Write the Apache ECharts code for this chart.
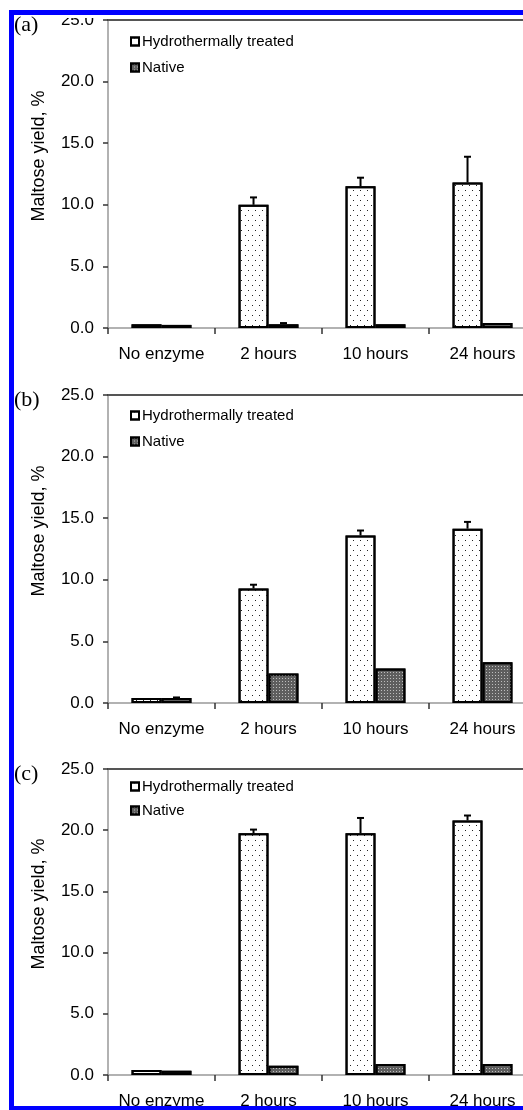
<!DOCTYPE html>
<html>
<head>
<meta charset="utf-8">
<script src="https://cdn.jsdelivr.net/npm/echarts@6/dist/echarts.min.js"></script>
<style>
  html, body { margin: 0; padding: 0; background: #fff; overflow: hidden; }
  #main { width: 540px; height: 1110px; }
</style>
</head>
<body>
<div id="main"></div>
<script>
// categories on the x axis
const categories = ['No enzyme', '2 hours', '10 hours', '24 hours'];
const seriesNames = ['Hydrothermally treated', 'Native'];
const panelLabels = ['(a)', '(b)', '(c)'];

// panel (a)
const hydroA = [0.3, 10.0, 11.5, 11.8];
const hydroErrA = [0, 0.6, 0.7, 2.1];
const nativeA = [0.25, 0.3, 0.3, 0.4];
const nativeErrA = [0, 0.1, 0, 0];

// panel (b)
const hydroB = [0.4, 9.3, 13.6, 14.15];
const hydroErrB = [0, 0.3, 0.4, 0.55];
const nativeB = [0.4, 2.4, 2.8, 3.3];
const nativeErrB = [0.05, 0, 0, 0];

// panel (c)
const hydroC = [0.4, 19.75, 19.75, 20.8];
const hydroErrC = [0, 0.3, 1.25, 0.4];
const nativeC = [0.35, 0.75, 0.9, 0.9];
const nativeErrC = [0, 0, 0, 0];

const panels = [
  { hydro: hydroA, hydroErr: hydroErrA, native: nativeA, nativeErr: nativeErrA },
  { hydro: hydroB, hydroErr: hydroErrB, native: nativeB, nativeErr: nativeErrB },
  { hydro: hydroC, hydroErr: hydroErrC, native: nativeC, nativeErr: nativeErrC }
];

const font = '"Liberation Sans", Arial, sans-serif';
const gridTops = [20, 395, 769];
const legendTops = [34, 408, 779];
const legendGaps = [11, 11, 9];

const chart = echarts.init(document.getElementById('main'));

// 点状填充（热处理）和网格填充（天然）
const hydroStyle = {
  color: '#fff',
  borderColor: '#000',
  borderWidth: 2,
  decal: {
    symbol: 'rect',
    symbolSize: 1,
    color: '#222',
    dashArrayX: [[1, 6], [0, 3, 1, 3]],
    dashArrayY: [1, 4],
    rotation: 0
  }
};
const nativeStyle = {
  color: '#5e5e5e',
  borderColor: '#000',
  borderWidth: 2,
  decal: {
    symbol: 'rect',
    symbolSize: 1,
    color: '#bdbdbd',
    dashArrayX: [1, 2],
    dashArrayY: [1, 2],
    rotation: 0
  }
};

// error bars drawn above each bar
function renderErr(params, api) {
  const idx = api.value(0);
  const v = api.value(1);
  const e = api.value(2);
  if (!e) return;
  const band = api.size([1, 0])[0];
  const x = api.coord([idx, v])[0] + api.value(3) * band * 0.14;
  const y0 = api.coord([idx, v])[1];
  const y1 = api.coord([idx, v + e])[1];
  return {
    type: 'group',
    children: [
      { type: 'line', shape: { x1: x, y1: y0, x2: x, y2: y1 }, style: { stroke: '#000', lineWidth: 2 } },
      { type: 'line', shape: { x1: x - 3.5, y1: y1, x2: x + 3.5, y2: y1 }, style: { stroke: '#000', lineWidth: 2 } }
    ]
  };
}

const grid = [], xAxis = [], yAxis = [], series = [], legend = [], title = [];

panels.forEach((p, i) => {
  grid.push({ left: 108, width: 428, top: gridTops[i], height: 308 });
  xAxis.push({
    type: 'category',
    gridIndex: i,
    data: categories,
    axisLine: { lineStyle: { color: '#999', width: 1.5 } },
    axisTick: { show: true, interval: 0, length: 6, lineStyle: { color: '#333', width: 1.5 } },
    axisLabel: { interval: 0, color: '#000', fontSize: 17, fontFamily: font, margin: 18 }
  });
  // top border line
  xAxis.push({
    type: 'category',
    gridIndex: i,
    position: 'top',
    data: categories,
    axisLine: { lineStyle: { color: '#555', width: 2 } },
    axisTick: { show: false },
    axisLabel: { show: false }
  });
  yAxis.push({
    type: 'value',
    gridIndex: i,
    min: 0,
    max: 25,
    interval: 5,
    name: 'Maltose yield, %',
    nameLocation: 'middle',
    nameGap: 60,
    nameTextStyle: { color: '#000', fontSize: 18, fontFamily: font, padding: [0, 0, 0, 36] },
    axisLine: { show: true, lineStyle: { color: '#999', width: 1.5 } },
    axisTick: { show: true, length: 5, lineStyle: { color: '#333', width: 1.5 } },
    splitLine: { show: false },
    axisLabel: { color: '#000', fontSize: 17, fontFamily: font, margin: 14, formatter: v => v.toFixed(1) }
  });
  series.push({
    name: seriesNames[0], type: 'bar', xAxisIndex: i * 2, yAxisIndex: i,
    data: p.hydro, barGap: '0%', barCategoryGap: '44%', itemStyle: hydroStyle
  });
  series.push({
    name: seriesNames[1], type: 'bar', xAxisIndex: i * 2, yAxisIndex: i,
    data: p.native, barGap: '0%', barCategoryGap: '44%', itemStyle: nativeStyle
  });
  series.push({
    type: 'custom', xAxisIndex: i * 2, yAxisIndex: i, z: 5,
    renderItem: renderErr,
    data: categories.map((c, k) => [k, p.hydro[k], p.hydroErr[k], -1])
      .concat(categories.map((c, k) => [k, p.native[k], p.nativeErr[k], 1]))
  });
  legend.push({
    data: seriesNames,
    orient: 'vertical',
    left: 130,
    top: legendTops[i],
    itemGap: legendGaps[i],
    icon: 'rect',
    itemWidth: 8,
    itemHeight: 8,
    padding: 0,
    textStyle: { color: '#000', fontSize: 15, fontFamily: font, padding: [0, 0, 0, -2] }
  });
  title.push({
    text: panelLabels[i],
    left: 14,
    top: gridTops[i] - 6,
    padding: 0,
    textStyle: { fontFamily: '"Liberation Serif", "Times New Roman", serif', fontSize: 22, fontWeight: 'normal', color: '#000' }
  });
});

const option = {
  animation: false,
  title: title,
  legend: legend,
  grid: grid,
  xAxis: xAxis,
  yAxis: yAxis,
  series: series,
  // 蓝色外框
  graphic: [
    { type: 'rect', z: 100, shape: { x: 50, y: 15, width: 490, height: 3 }, style: { fill: '#fff' } },
    { type: 'rect', z: 101, shape: { x: 9, y: 10, width: 5, height: 1100 }, style: { fill: '#0000ff' } },
    { type: 'rect', z: 101, shape: { x: 9, y: 10, width: 531, height: 5 }, style: { fill: '#0000ff' } },
    { type: 'rect', z: 101, shape: { x: 9, y: 1106, width: 531, height: 4 }, style: { fill: '#0000ff' } }
  ]
};
chart.setOption(option);
</script>
</body>
</html>
